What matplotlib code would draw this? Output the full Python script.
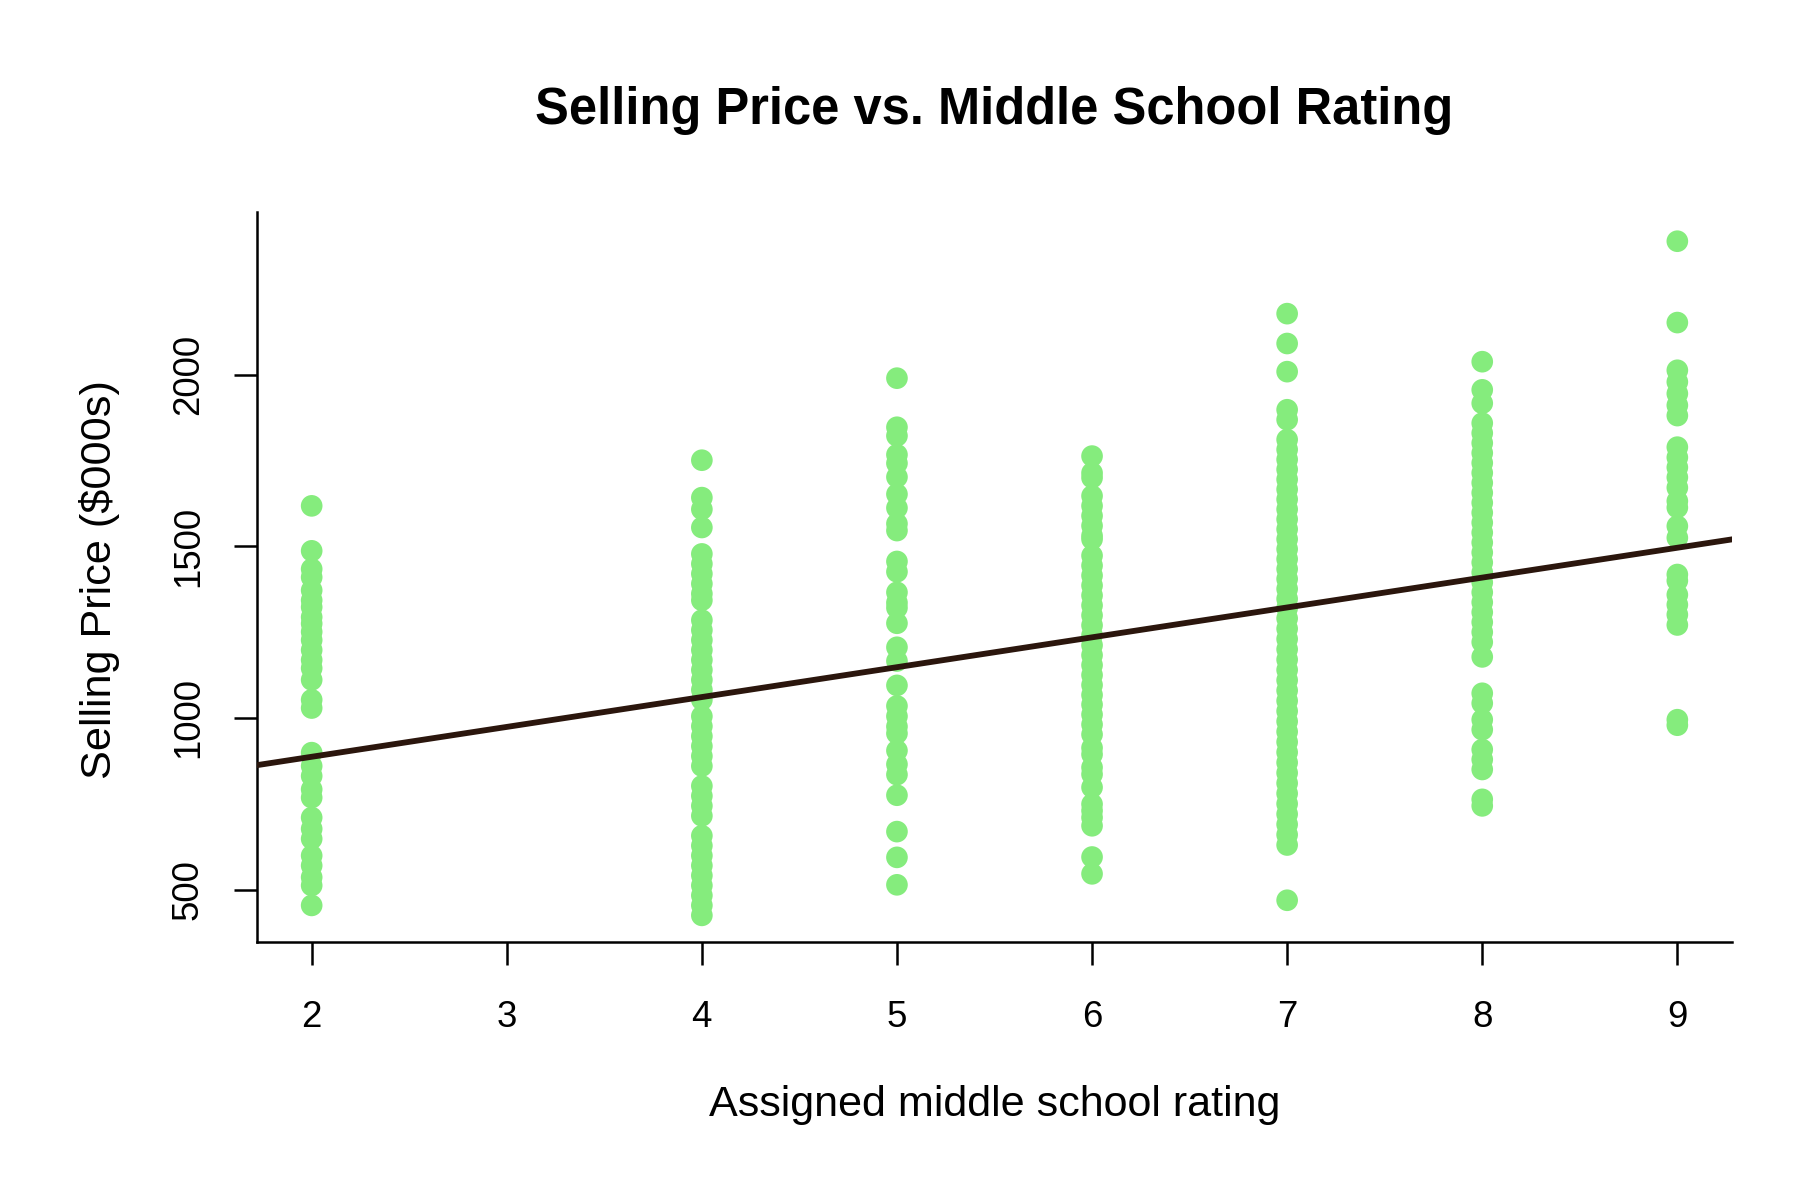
import matplotlib
matplotlib.use("Agg")
import matplotlib.pyplot as plt
import numpy as np

# ---- data ----
rating_2 = [1618, 1487, 1434, 1410, 1372, 1343, 1323, 1294, 1275, 1251, 1227, 1198,
            1169, 1145, 1111, 1053, 1029, 899, 860, 831, 792, 768, 710, 677, 648,
            599, 570, 536, 512, 454]
rating_4 = [1751, 1642, 1608, 1555, 1478, 1449, 1420, 1391, 1362, 1343, 1285, 1256,
            1227, 1198, 1169, 1140, 1111, 1082, 1053, 1005, 976, 947, 918, 889, 860,
            802, 773, 744, 715, 657, 628, 599, 570, 541, 512, 483, 454, 425]
rating_5 = [1990, 1847, 1822, 1767, 1742, 1702, 1652, 1612, 1566, 1546, 1456, 1426,
            1366, 1336, 1321, 1276, 1206, 1166, 1095, 1035, 1005, 975, 955, 905, 865,
            835, 775, 669, 594, 514]
rating_6 = [1763, 1714, 1700, 1647, 1618, 1589, 1560, 1531, 1521, 1473, 1444, 1415,
            1386, 1357, 1328, 1299, 1270, 1241, 1212, 1183, 1154, 1125, 1096, 1067,
            1039, 1010, 981, 952, 913, 894, 856, 836, 798, 749, 730, 710, 686, 595, 546]
rating_7 = [2178, 2091, 2009, 1898, 1869, 1811, 1782, 1753, 1724, 1695, 1666, 1637,
            1608, 1579, 1550, 1521, 1492, 1463, 1434, 1405, 1376, 1347, 1320, 1290,
            1260, 1230, 1200, 1170, 1140, 1110, 1080, 1050, 1020, 990, 960, 930, 900,
            870, 840, 810, 780, 750, 720, 690, 660, 630, 469]
rating_8 = [2038, 1956, 1917, 1859, 1830, 1801, 1772, 1743, 1714, 1685, 1656, 1627,
            1598, 1569, 1540, 1511, 1482, 1453, 1424, 1395, 1366, 1337, 1308, 1279,
            1250, 1221, 1178, 1072, 1043, 995, 966, 908, 879, 850, 763, 744]
rating_9 = [2389, 2152, 2013, 1979, 1945, 1911, 1881, 1789, 1759, 1730, 1701, 1671,
            1632, 1613, 1559, 1525, 1418, 1400, 1359, 1330, 1301, 1271, 995, 979]

groups = {2: rating_2, 4: rating_4, 5: rating_5, 6: rating_6,
          7: rating_7, 8: rating_8, 9: rating_9}

fit_intercept = 713.0
fit_slope = 87.0

x_ticks = [2, 3, 4, 5, 6, 7, 8, 9]
y_ticks = [500, 1000, 1500, 2000]

title = "Selling Price vs. Middle School Rating"
xlabel = "Assigned middle school rating"
ylabel = "Selling Price ($000s)"

# ---- build arrays ----
xs = np.concatenate([[k] * len(v) for k, v in groups.items()]).astype(float)
ys = np.concatenate([v for v in groups.values()]).astype(float)

plt.rcParams['font.family'] = ['Liberation Sans', 'DejaVu Sans']

fig = plt.figure(figsize=(6, 4), dpi=300)
left, right, bottom, top = 0.1428, 0.9622, 0.2146, 0.8233
ax = fig.add_axes([left, bottom, right - left, top - bottom])

ax.scatter(xs, ys, s=27, color='#85EC7D', edgecolors='none', zorder=2)
ax.axline((0, fit_intercept), slope=fit_slope, color='#2B160D', lw=1.4, zorder=3)

ax.set_xlim(1.72, 9.28)
ax.set_ylim(346, 2474)

ax.set_xticks(x_ticks)
ax.set_yticks(y_ticks)
ax.set_xticklabels([str(t) for t in x_ticks])
ax.set_yticklabels([str(t) for t in y_ticks], rotation=90, va='center')
ax.tick_params(axis='both', direction='out', length=5.5, width=0.6,
               labelsize=8.8, colors='black')
ax.tick_params(axis='x', pad=8.3)
ax.tick_params(axis='y', pad=6.8)

for s in ['top', 'right']:
    ax.spines[s].set_visible(False)
for s in ['left', 'bottom']:
    ax.spines[s].set_linewidth(0.6)
    ax.spines[s].set_color('black')

cx = (left + right) / 2
fig.text(cx, 0.908, title, ha='center', va='center',
         fontsize=12.15, fontweight='bold')
fig.text(cx, 0.0792, xlabel, ha='center', va='center', fontsize=10.35)
fig.text(0.0555, 1 - 579.5 / 1200, ylabel, ha='center', va='center',
         rotation=90, fontsize=10.4)

fig.savefig('out.png', dpi=300, facecolor='white')
